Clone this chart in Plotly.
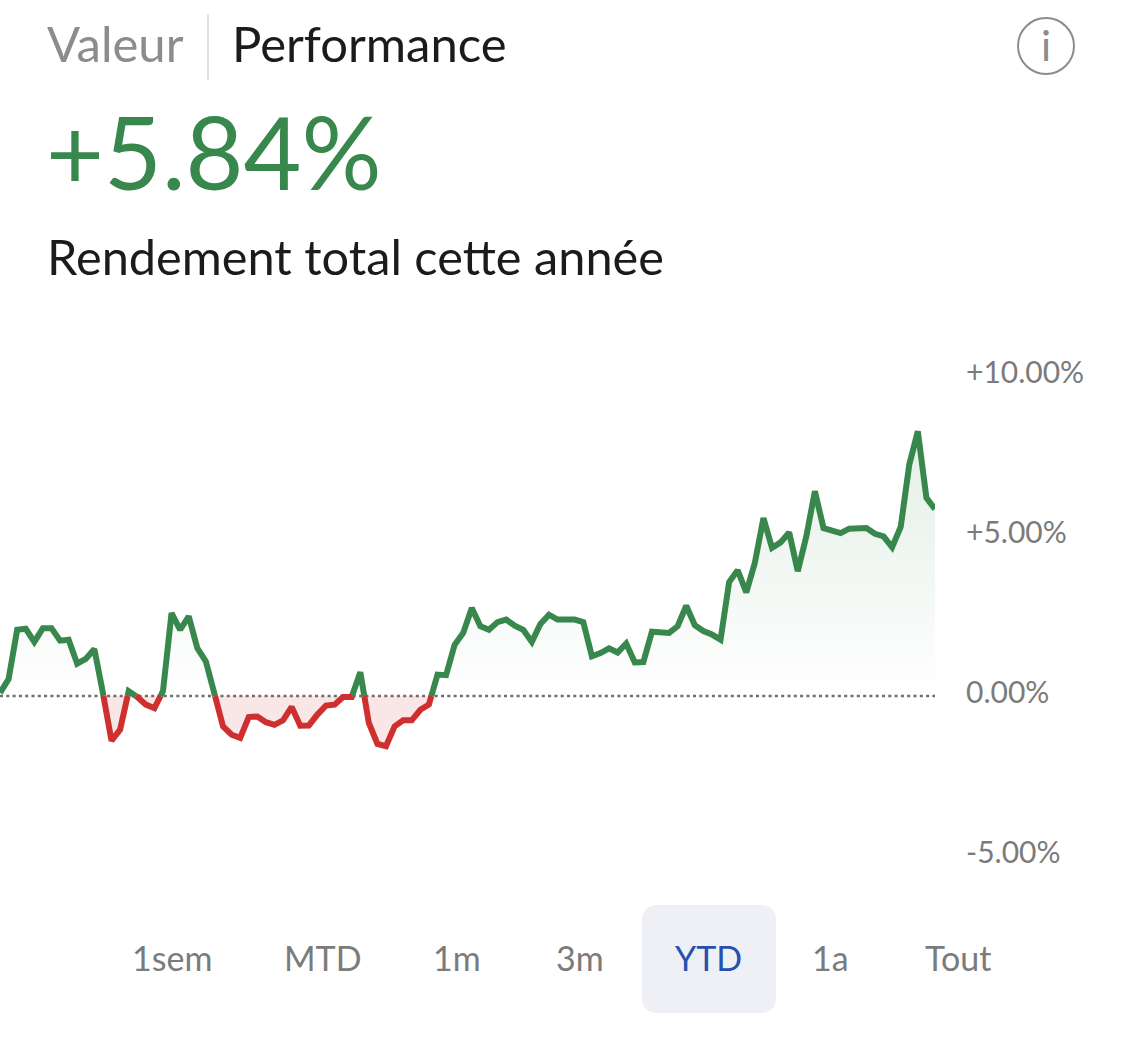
import plotly.graph_objects as go

W, H = 1125, 1046

returns = [0.10, 0.53, 2.07, 2.10, 1.69, 2.12, 2.12, 1.73, 1.76, 1.01, 1.16, 1.47, 0.09, -1.40, -1.05, 0.15, -0.03, -0.27, -0.38,
           0.15, 2.59, 2.07, 2.49, 1.50, 1.08, 0.07, -0.95, -1.21, -1.31, -0.66, -0.64, -0.82, -0.90, -0.76, -0.34, -0.93, -0.92,
           -0.58, -0.30, -0.27, -0.03, -0.03, 0.74, -0.84, -1.50, -1.57, -0.95, -0.76, -0.76, -0.43, -0.27, 0.67, 0.65, 1.60,
           1.97, 2.75, 2.18, 2.07, 2.31, 2.39, 2.20, 2.07, 1.69, 2.25, 2.54, 2.39, 2.39, 2.39, 2.31, 1.24, 1.34, 1.49, 1.36, 1.64,
           1.05, 1.06, 2.01, 1.99, 1.97, 2.18, 2.82, 2.21, 2.03, 1.92, 1.76, 3.56, 3.93, 3.24, 4.16, 5.56, 4.63, 4.80, 5.11, 3.90,
           4.99, 6.40, 5.25, 5.17, 5.09, 5.23, 5.25, 5.25, 5.07, 4.99, 4.65, 5.28, 7.23, 8.27, 6.19, 5.84]
tick_values = [10, 5, 0, -5]
tick_labels = ["+10.00%", "+5.00%", "0.00%", "-5.00%"]
periods = ["1sem", "MTD", "1m", "3m", "YTD", "1a", "Tout"]
period_centers = [172, 323, 457, 580, 708, 830, 958]

GREEN, RED, GREY, FONT = "#38874c", "#cf2f2f", "#7b7b7b", "Lato"


def px(x):
    return x / W


def py(y):
    return 1 - y / H


# split the series at its zero crossings so each side gets its own colour
xs, ys = [], []
for i, v in enumerate(returns):
    if i and returns[i - 1] * v < 0:
        p = returns[i - 1]
        xs.append(i - 1 + p / (p - v))
        ys.append(0)
    xs.append(i)
    ys.append(v)


def side(sign):
    out = []
    for j, v in enumerate(ys):
        if v * sign > 0:
            out.append(v)
        elif v == 0 and ((j and ys[j - 1] * sign > 0) or (j + 1 < len(ys) and ys[j + 1] * sign > 0)):
            out.append(0)
        else:
            out.append(None)
    return out


fig = go.Figure()
fig.add_trace(go.Scatter(x=[0, len(returns) - 1], y=[0, 0], mode="lines",
                         line=dict(color="#6e6e6e", width=2.5, dash="3px,3.3px"), hoverinfo="skip"))
fig.add_trace(go.Scatter(x=xs, y=side(1), mode="lines", line=dict(color=GREEN, width=6), fill="tozeroy",
                         fillgradient=dict(type="vertical", start=0, stop=8.3,
                                           colorscale=[[0, "rgba(56,135,76,0)"], [1, "rgba(56,135,76,0.14)"]])))
fig.add_trace(go.Scatter(x=xs, y=side(-1), mode="lines", line=dict(color=RED, width=6), fill="tozeroy",
                         fillcolor="rgba(207,47,47,0.12)"))


def label(text, x, y, size, color, anchor="left"):
    fig.add_annotation(text=text, x=px(x), y=py(y), xref="paper", yref="paper", xanchor=anchor, yanchor="middle",
                       showarrow=False, font=dict(family=FONT, size=size, color=color))


label("Valeur", 45, 43, 49, "#8c8c8c")
label("Performance", 230, 43, 49, "#1b1b1b")
label("+5.84%", 44, 151, 100, GREEN)
label("Rendement total cette année", 45, 256, 48.7, "#1b1b1b")
label("i", 1046, 45, 42, "#8c8c8c", "center")
for name, cx in zip(periods, period_centers):
    label(name, cx, 957, 34, "#2550b0" if name == "YTD" else GREY, "center")

l, r, t, b, c = px(642), px(776), py(905), py(1013), 16
cx, cy = c / W, c / H
fig.update_layout(
    width=W, height=H, margin=dict(l=0, r=0, t=0, b=0, autoexpand=False), showlegend=False,
    paper_bgcolor="white", plot_bgcolor="white", hovermode=False,
    xaxis=dict(domain=[0, px(935)], range=[0, len(returns) - 1], visible=False),
    yaxis=dict(domain=[py(856), py(376)], range=[-5, 10], side="right", tickvals=tick_values, ticktext=tick_labels,
               showgrid=False, zeroline=False, showline=False, ticks="outside", ticklen=24, ticklabelshift=-4,
               tickcolor="rgba(0,0,0,0)", tickfont=dict(family=FONT, size=30, color=GREY)),
    shapes=[
        dict(type="line", xref="paper", yref="paper", x0=px(208), x1=px(208), y0=py(14), y1=py(80),
             line=dict(color="#d4d4d4", width=1.5)),
        dict(type="circle", xref="paper", yref="paper", x0=px(1018), x1=px(1074), y0=py(74), y1=py(18),
             line=dict(color="#8c8c8c", width=2)),
        dict(type="path", xref="paper", yref="paper", layer="below", fillcolor="#eef0f5", line=dict(width=0),
             path=f"M {l+cx} {t} L {r-cx} {t} Q {r} {t} {r} {t-cy} L {r} {b+cy} Q {r} {b} {r-cx} {b} "
                  f"L {l+cx} {b} Q {l} {b} {l} {b+cy} L {l} {t-cy} Q {l} {t} {l+cx} {t} Z"),
    ],
)
fig.write_html("out.html", config=dict(displayModeBar=False),
               post_script="document.body.style.margin='0';document.documentElement.style.overflow='hidden';")
